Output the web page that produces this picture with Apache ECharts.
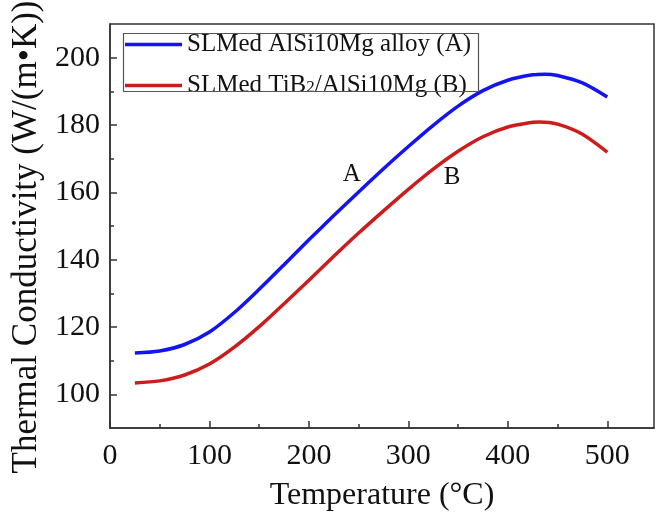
<!DOCTYPE html>
<html>
<head>
<meta charset="utf-8">
<script src="https://cdn.jsdelivr.net/npm/echarts@6/dist/echarts.min.js"></script>
<style>html,body{margin:0;padding:0;background:#fff;}#c{width:663px;height:513px;}</style>
</head>
<body>
<div id="c"></div>
<script>
// Temperature (°C) and values
var tempsA = [25, 50, 75, 100, 125, 150, 175, 200, 225, 250, 275, 300, 325, 350, 375, 400, 425, 437, 450, 475, 500];
var seriesA = [112.3, 112.9, 114.8, 118.5, 124.3, 131.2, 138.5, 145.9, 153.1, 160.1, 167.0, 173.6, 179.9, 185.6, 190.2, 193.3, 194.9, 195.1, 194.7, 192.5, 188.3];
var tempsB = [25, 50, 75, 100, 125, 150, 175, 200, 225, 250, 275, 300, 325, 350, 375, 400, 425, 432, 450, 475, 500];
var seriesB = [103.4, 104.0, 105.75, 109.0, 114.0, 120.1, 126.9, 133.9, 141.0, 147.9, 154.5, 160.9, 166.9, 172.2, 176.5, 179.4, 180.8, 180.9, 180.25, 177.25, 171.9];
var nameA = 'SLMed AlSi10Mg alloy (A)';
var nameB = 'SLMed TiB2/AlSi10Mg (B)';
var xMajorTicks = [0, 100, 200, 300, 400, 500];
var xMinorTicks = [50, 150, 250, 350, 450];
var yMajorTicks = [100, 120, 140, 160, 180, 200];
var yMinorTicks = [110, 130, 150, 170, 190];
var labelA = {text: 'A', x: 243, y: 165.2};
var labelB = {text: 'B', x: 344, y: 164.4};

function pairs(xs, ys) { return xs.map(function (x, i) { return [x, ys[i]]; }); }

var FONT = '"Liberation Serif", "Times New Roman", serif';
var AX = '#333';
var chart = echarts.init(document.getElementById('c'));
chart.setOption({
  animation: false,
  backgroundColor: '#fff',
  grid: {left: 110, top: 24, right: 9, bottom: 85, containLabel: false, outerBoundsMode: 'none',
    show: true, borderColor: AX, borderWidth: 1.5, backgroundColor: 'transparent'},
  graphic: [{
    type: 'rect', left: 121, top: 31, silent: true, z: 100,
    shape: {width: 355, height: 58},
    style: {fill: 'none', stroke: '#555', lineWidth: 1.2}
  }],
  legend: {
    orient: 'vertical', left: 125, top: 32,
    padding: 0, itemGap: 16,
    icon: 'rect', itemWidth: 57, itemHeight: 3.5,
    data: [nameA, nameB],
    formatter: function (n) {
      if (n === nameB) return '{t|SLMed TiB}{s|2}{t|/AlSi10Mg (B)}';
      return '{t|' + n + '}';
    },
    textStyle: {
      fontFamily: FONT, fontSize: 25, color: '#111', lineHeight: 22,
      rich: {
        t: {fontFamily: FONT, fontSize: 25, color: '#111', lineHeight: 22},
        s: {fontFamily: FONT, fontSize: 17, color: '#111', lineHeight: 10, verticalAlign: 'bottom'}
      }
    }
  },
  xAxis: [{
    type: 'value', min: 0, max: 547, position: 'bottom',
    name: 'Temperature (°C)', nameLocation: 'middle', nameGap: 52,
    nameTextStyle: {fontFamily: FONT, fontSize: 32, color: '#111'},
    axisLine: {show: true, lineStyle: {color: AX, width: 1.5}},
    axisTick: {show: true, inside: true, length: 7, lineStyle: {color: AX, width: 1.5}, customValues: xMajorTicks},
    axisLabel: {show: true, margin: 13, fontFamily: FONT, fontSize: 30, color: '#111', customValues: xMajorTicks},
    splitLine: {show: false}
  }, {
    type: 'value', min: 0, max: 547, position: 'bottom',
    axisLine: {show: false},
    axisTick: {show: true, inside: true, length: 4, lineStyle: {color: AX, width: 1.5}, customValues: xMinorTicks},
    axisLabel: {show: false},
    splitLine: {show: false}
  }],
  yAxis: [{
    type: 'value', min: 90, max: 210, position: 'left',
    name: 'Thermal Conductivity (W/(m•K))', nameLocation: 'middle', nameGap: 64, nameRotate: 90,
    nameTextStyle: {fontFamily: FONT, fontSize: 35, color: '#111', padding: [0, 22, 0, 0]},
    axisLine: {show: true, lineStyle: {color: AX, width: 1.5}},
    axisTick: {show: true, inside: true, length: 7, lineStyle: {color: AX, width: 1.5}, customValues: yMajorTicks},
    axisLabel: {show: true, margin: 10, fontFamily: FONT, fontSize: 30, color: '#111', customValues: yMajorTicks},
    splitLine: {show: false}
  }, {
    type: 'value', min: 90, max: 210, position: 'left',
    axisLine: {show: false},
    axisTick: {show: true, inside: true, length: 4, lineStyle: {color: AX, width: 1.5}, customValues: yMinorTicks},
    axisLabel: {show: false},
    splitLine: {show: false}
  }],
  series: [{
    name: nameA, type: 'line', xAxisIndex: 0, yAxisIndex: 0,
    data: pairs(tempsA, seriesA), smooth: 0.3, showSymbol: false, symbol: 'none',
    lineStyle: {color: '#1414f2', width: 3.5}, itemStyle: {color: '#1414f2'},
    markPoint: {symbol: 'circle', symbolSize: 0, silent: true,
      label: {show: true, position: 'inside', formatter: labelA.text, fontFamily: FONT, fontSize: 25, color: '#111'},
      data: [{coord: [labelA.x, labelA.y], value: labelA.text}]}
  }, {
    name: nameB, type: 'line', xAxisIndex: 0, yAxisIndex: 0,
    data: pairs(tempsB, seriesB), smooth: 0.3, showSymbol: false, symbol: 'none',
    lineStyle: {color: '#cc1c1c', width: 3.5}, itemStyle: {color: '#cc1c1c'},
    markPoint: {symbol: 'circle', symbolSize: 0, silent: true,
      label: {show: true, position: 'inside', formatter: labelB.text, fontFamily: FONT, fontSize: 25, color: '#111'},
      data: [{coord: [labelB.x, labelB.y], value: labelB.text}]}
  }]
});
</script>
</body>
</html>
